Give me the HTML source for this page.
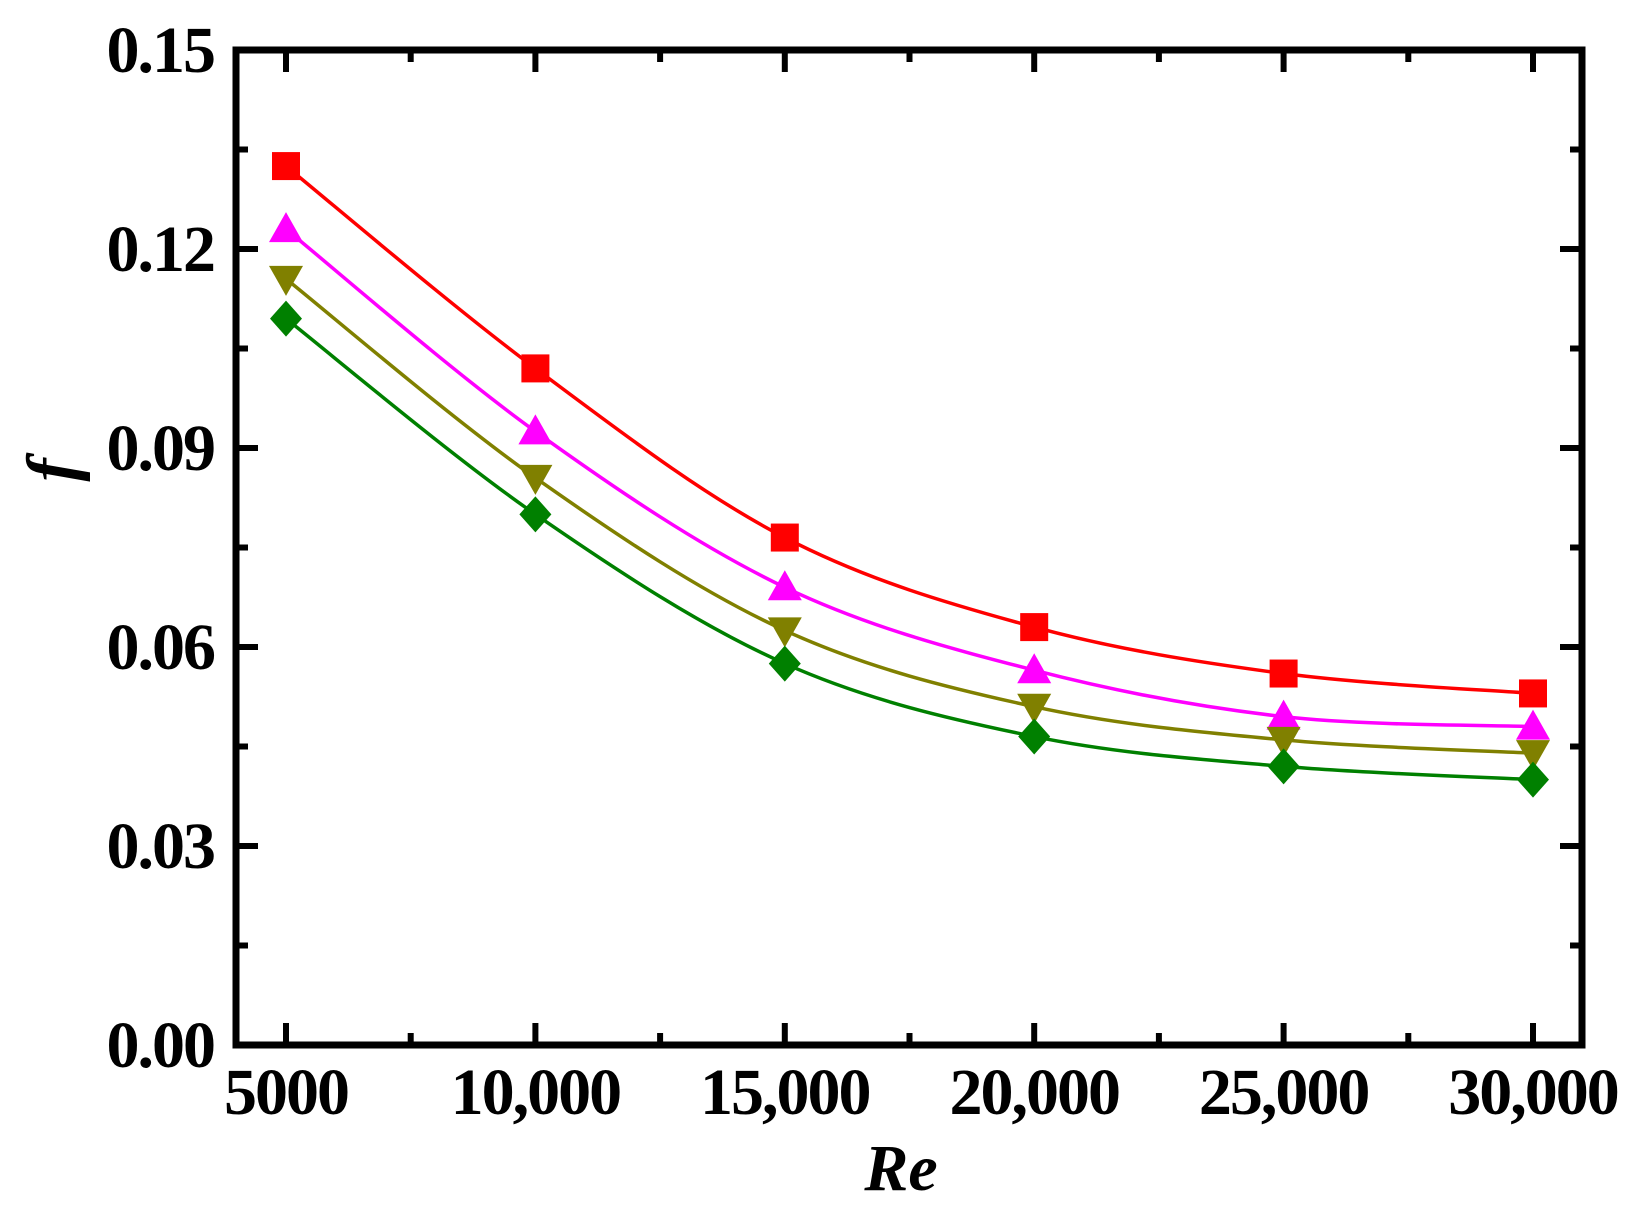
<!DOCTYPE html>
<html><head><style>body{margin:0;background:#fff}svg{display:block}</style></head>
<body>
<svg id="s" width="1646" height="1217" xmlns="http://www.w3.org/2000/svg" font-family="Liberation Serif, serif" font-weight="bold"></svg>
<script>
const s=document.getElementById('s');
const X0=236,X1=1582,Y0=1045,Y1=50;
const xp=v=>286+(v-5000)*(1533-286)/25000;
const yp=v=>Y0-v*(Y0-Y1)/0.15;
let h='';
for(let v=0;v<=0.1501;v+=0.015){const y=yp(v);const maj=Math.round(v*1000)%30==0;const L=maj?22:12;
h+=`<line x1="${X0}" x2="${X0+L}" y1="${y}" y2="${y}" stroke="#000" stroke-width="6"/><line x1="${X1}" x2="${X1-L}" y1="${y}" y2="${y}" stroke="#000" stroke-width="6"/>`;
if(maj)h+=`<text x="214" y="${y+22}" font-size="66" text-anchor="end" letter-spacing="-2">${v.toFixed(2)}</text>`;}
const labs=['5000','10,000','15,000','20,000','25,000','30,000'];
for(let i=0;i<11;i++){const v=5000+i*2500;const x=xp(v);const maj=i%2==0;const L=maj?22:12;
h+=`<line x1="${x}" x2="${x}" y1="${Y0}" y2="${Y0-L}" stroke="#000" stroke-width="6"/><line x1="${x}" x2="${x}" y1="${Y1}" y2="${Y1+L}" stroke="#000" stroke-width="6"/>`;
if(maj)h+=`<text x="${x}" y="1114" font-size="66" text-anchor="middle" letter-spacing="-2">${labs[i/2]}</text>`;}
h+=`<rect x="${X0}" y="${Y1}" width="${X1-X0}" height="${Y0-Y1}" fill="none" stroke="#000" stroke-width="7"/>`;
h+=`<text x="901" y="1190" font-size="66" font-style="italic" text-anchor="middle">Re</text>`;
h+=`<text transform="translate(75,470) rotate(-90)" font-size="70" font-style="italic" text-anchor="middle">f</text>`;
const ser=[
['#ff0000','sq',[.1325,.102,.0765,.063,.056,.053]],
['#ff00ff','up',[.123,.0925,.069,.0565,.0495,.048]],
['#808000','dn',[.1155,.0855,.0625,.051,.046,.044]],
['#008000','di',[.1095,.080,.0575,.0465,.042,.040]]];
for(const [c,m,d] of ser){
 const P=d.map((v,i)=>[xp(5000+i*5000),yp(v)]);
 let p=`M${P[0][0]},${P[0][1]}`;
 for(let i=0;i<P.length-1;i++){const a=P[Math.max(0,i-1)],b=P[i],cc=P[i+1],dd=P[Math.min(P.length-1,i+2)];
  p+=`C${b[0]+(cc[0]-a[0])/6},${b[1]+(cc[1]-a[1])/6} ${cc[0]-(dd[0]-b[0])/6},${cc[1]-(dd[1]-b[1])/6} ${cc[0]},${cc[1]}`;}
 h+=`<path d="${p}" fill="none" stroke="${c}" stroke-width="3.5"/>`;
 for(const [x,y] of P){
  if(m=='sq')h+=`<rect x="${x-14}" y="${y-14}" width="28" height="28" fill="${c}"/>`;
  if(m=='up')h+=`<polygon points="${x},${y-17} ${x-17},${y+13} ${x+17},${y+13}" fill="${c}"/>`;
  if(m=='dn')h+=`<polygon points="${x},${y+17} ${x-17},${y-13} ${x+17},${y-13}" fill="${c}"/>`;
  if(m=='di')h+=`<polygon points="${x},${y-18} ${x+16},${y} ${x},${y+18} ${x-16},${y}" fill="${c}"/>`;
 }}
s.innerHTML=h;
</script>
</body></html>
